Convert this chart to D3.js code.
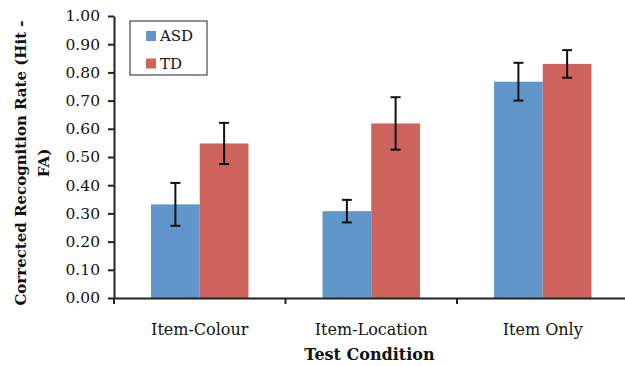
<!DOCTYPE html>
<html>
<head>
<meta charset="utf-8">
<script src="https://cdn.jsdelivr.net/npm/d3@7"></script>
<style>
  body { margin: 0; background: #fff; }
  text { font-family: "DejaVu Serif", serif; fill: #111; }
</style>
</head>
<body>
<div id="chart"></div>
<script>
var conditions = ["Item-Colour", "Item-Location", "Item Only"];
var groups = ["ASD", "TD"];
var asdValues = [0.332, 0.308, 0.767];
var tdValues = [0.548, 0.619, 0.830];
var asdErrors = [0.076, 0.040, 0.067];
var tdErrors = [0.073, 0.093, 0.049];
var yTicks = [0, 0.1, 0.2, 0.3, 0.4, 0.5, 0.6, 0.7, 0.8, 0.9, 1.0];
var groupColors = ["#6096c9", "#cc635d"];

(function () {
    var width = 625,
        height = 366;
    var left = 114, right = 628.5, top = 16, bottom = 298;

    var rows = [];
    conditions.forEach(function (c, i) {
        rows.push({ cond: c, group: "ASD", value: asdValues[i], err: asdErrors[i] });
        rows.push({ cond: c, group: "TD", value: tdValues[i], err: tdErrors[i] });
    });

    var svg = d3.select("#chart")
        .append("svg")
        .attr("width", width)
        .attr("height", height);

    var x = d3.scaleBand().domain(conditions).range([left, right]);
    var inner = d3.scaleBand().domain(groups).range([0, x.bandwidth()]).paddingOuter(0.76).paddingInner(0);
    var y = d3.scaleLinear().domain([0, 1]).range([bottom, top]);
    var color = d3.scaleOrdinal().domain(groups).range(groupColors);

    // bars
    svg.selectAll(".bar")
        .data(rows)
        .enter().append("rect")
        .attr("class", "bar")
        .attr("x", d => x(d.cond) + inner(d.group))
        .attr("width", inner.bandwidth())
        .attr("y", d => y(d.value))
        .attr("height", d => y(0) - y(d.value))
        .attr("fill", d => color(d.group));

    // error bars
    var eb = svg.selectAll(".err")
        .data(rows)
        .enter().append("g")
        .attr("class", "err")
        .attr("stroke", "#111")
        .attr("stroke-width", 2);
    var cx = d => x(d.cond) + inner(d.group) + inner.bandwidth() / 2;
    eb.append("line")
        .attr("x1", cx).attr("x2", cx)
        .attr("y1", d => y(d.value + d.err)).attr("y2", d => y(d.value - d.err));
    eb.append("line")
        .attr("x1", d => cx(d) - 5).attr("x2", d => cx(d) + 5)
        .attr("y1", d => y(d.value + d.err)).attr("y2", d => y(d.value + d.err));
    eb.append("line")
        .attr("x1", d => cx(d) - 5).attr("x2", d => cx(d) + 5)
        .attr("y1", d => y(d.value - d.err)).attr("y2", d => y(d.value - d.err));

    // y axis
    var yAxis = svg.append("g")
        .attr("transform", "translate(" + left + ",0)")
        .call(d3.axisLeft(y).tickValues(yTicks).tickFormat(d3.format(".2f")).tickSize(6).tickSizeOuter(0));
    yAxis.select(".domain").attr("stroke", "#222").attr("stroke-width", 2);
    yAxis.selectAll(".tick line").attr("stroke", "#222").attr("stroke-width", 2);
    yAxis.selectAll(".tick text")
        .attr("x", -14)
        .style("font-family", "DejaVu Serif")
        .style("font-size", "15.5px")
        .attr("fill", "#111");

    // x axis
    var xAxis = svg.append("g")
        .attr("transform", "translate(0," + bottom + ")")
        .call(d3.axisBottom(x).tickSize(0).tickSizeOuter(0));
    xAxis.select(".domain").attr("stroke", "#222").attr("stroke-width", 2);
    xAxis.selectAll(".tick text")
        .attr("y", 26)
        .style("font-family", "DejaVu Serif")
        .style("font-size", "16px")
        .attr("fill", "#111");
    // category boundary ticks
    svg.selectAll(".cat-tick")
        .data(conditions)
        .enter().append("line")
        .attr("class", "cat-tick")
        .attr("x1", d => x(d)).attr("x2", d => x(d))
        .attr("y1", bottom).attr("y2", bottom + 6)
        .attr("stroke", "#222").attr("stroke-width", 2);

    // axis titles
    svg.append("text")
        .attr("x", (left + width) / 2)
        .attr("y", 360)
        .attr("text-anchor", "middle")
        .style("font-weight", "bold")
        .style("font-size", "16px")
        .text("Test Condition");

    var yt = svg.append("text")
        .attr("transform", "translate(26,163) rotate(-90)")
        .attr("text-anchor", "middle")
        .style("font-weight", "bold")
        .style("font-size", "15px");
    yt.append("tspan").attr("x", 0).attr("y", 0).text("Corrected Recognition Rate (Hit -");
    yt.append("tspan").attr("x", 0).attr("y", 23).text("FA)");

    // legend
    var legend = svg.append("g").attr("transform", "translate(130,21)");
    legend.append("rect")
        .attr("width", 77).attr("height", 54)
        .attr("fill", "#fff").attr("stroke", "#222").attr("stroke-width", 1);
    var items = legend.selectAll(".legend")
        .data(groups)
        .enter().append("g")
        .attr("class", "legend")
        .attr("transform", (d, i) => "translate(16," + (10 + i * 27.5) + ")");
    items.append("rect")
        .attr("width", 10).attr("height", 10)
        .attr("fill", d => color(d));
    items.append("text")
        .attr("x", 14).attr("y", 10)
        .style("font-size", "15px")
        .text(d => d);
})();
</script>
</body>
</html>
